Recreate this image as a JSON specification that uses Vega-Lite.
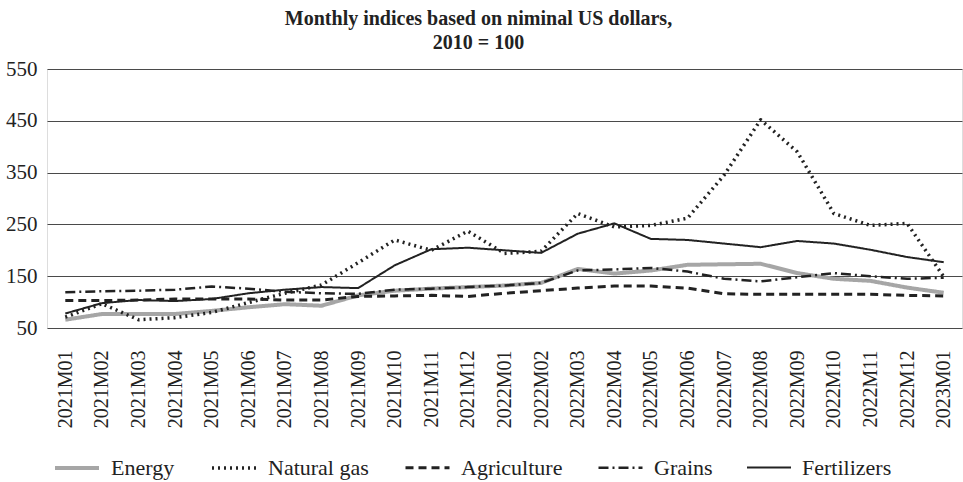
{
  "$schema": "https://vega.github.io/schema/vega-lite/v6.json",
  "autosize": {"type": "none"},
  "width": 915,
  "height": 259,
  "padding": {"left": 47, "top": 69, "right": 1, "bottom": 154},
  "background": "white",
  "title": {
    "text": ["Monthly indices based on niminal US dollars,", "2010 = 100"],
    "font": "Liberation Serif",
    "fontSize": 20,
    "fontWeight": "bold",
    "color": "#222222",
    "anchor": "middle",
    "dx": -26,
    "offset": 5,
    "lineHeight": 24
  },
  "data": {
    "values": [
      {"m": "2021M01", "Energy": 66, "Natural gas": 71, "Agriculture": 103, "Grains": 119, "Fertilizers": 78},
      {"m": "2021M02", "Energy": 77, "Natural gas": 97, "Agriculture": 103, "Grains": 121, "Fertilizers": 98},
      {"m": "2021M03", "Energy": 77, "Natural gas": 66, "Agriculture": 104, "Grains": 122, "Fertilizers": 104},
      {"m": "2021M04", "Energy": 77, "Natural gas": 70, "Agriculture": 106, "Grains": 124, "Fertilizers": 102},
      {"m": "2021M05", "Energy": 83, "Natural gas": 80, "Agriculture": 106, "Grains": 130, "Fertilizers": 106},
      {"m": "2021M06", "Energy": 90, "Natural gas": 99, "Agriculture": 106, "Grains": 126, "Fertilizers": 117},
      {"m": "2021M07", "Energy": 96, "Natural gas": 117, "Agriculture": 104, "Grains": 120, "Fertilizers": 124},
      {"m": "2021M08", "Energy": 93, "Natural gas": 133, "Agriculture": 104, "Grains": 117, "Fertilizers": 129},
      {"m": "2021M09", "Energy": 113, "Natural gas": 176, "Agriculture": 111, "Grains": 116, "Fertilizers": 127},
      {"m": "2021M10", "Energy": 122, "Natural gas": 220, "Agriculture": 112, "Grains": 124, "Fertilizers": 171},
      {"m": "2021M11", "Energy": 126, "Natural gas": 200, "Agriculture": 113, "Grains": 126, "Fertilizers": 202},
      {"m": "2021M12", "Energy": 129, "Natural gas": 237, "Agriculture": 111, "Grains": 129, "Fertilizers": 205},
      {"m": "2022M01", "Energy": 132, "Natural gas": 194, "Agriculture": 117, "Grains": 132, "Fertilizers": 200},
      {"m": "2022M02", "Energy": 137, "Natural gas": 198, "Agriculture": 122, "Grains": 137, "Fertilizers": 195},
      {"m": "2022M03", "Energy": 164, "Natural gas": 271, "Agriculture": 127, "Grains": 161, "Fertilizers": 232},
      {"m": "2022M04", "Energy": 155, "Natural gas": 245, "Agriculture": 131, "Grains": 163, "Fertilizers": 252},
      {"m": "2022M05", "Energy": 161, "Natural gas": 248, "Agriculture": 131, "Grains": 166, "Fertilizers": 222},
      {"m": "2022M06", "Energy": 172, "Natural gas": 262, "Agriculture": 127, "Grains": 159, "Fertilizers": 220},
      {"m": "2022M07", "Energy": 173, "Natural gas": 345, "Agriculture": 116, "Grains": 145, "Fertilizers": 213},
      {"m": "2022M08", "Energy": 174, "Natural gas": 452, "Agriculture": 115, "Grains": 140, "Fertilizers": 206},
      {"m": "2022M09", "Energy": 156, "Natural gas": 390, "Agriculture": 115, "Grains": 148, "Fertilizers": 218},
      {"m": "2022M10", "Energy": 145, "Natural gas": 271, "Agriculture": 115, "Grains": 156, "Fertilizers": 213},
      {"m": "2022M11", "Energy": 141, "Natural gas": 248, "Agriculture": 115, "Grains": 150, "Fertilizers": 201},
      {"m": "2022M12", "Energy": 128, "Natural gas": 252, "Agriculture": 113, "Grains": 145, "Fertilizers": 187},
      {"m": "2023M01", "Energy": 118, "Natural gas": 149, "Agriculture": 112, "Grains": 147, "Fertilizers": 177}
    ]
  },
  "transform": [
    {"fold": ["Energy", "Natural gas", "Agriculture", "Grains", "Fertilizers"], "as": ["series", "value"]}
  ],
  "mark": {"type": "line", "strokeCap": "butt", "strokeJoin": "round"},
  "encoding": {
    "x": {
      "field": "m",
      "type": "ordinal",
      "sort": null,
      "scale": {"type": "point", "padding": 0.5},
      "axis": {
        "title": null,
        "labelAngle": 270,
        "labelFont": "Liberation Serif",
        "labelFontSize": 20,
        "labelColor": "#222222",
        "labelPadding": 22,
        "ticks": false,
        "domain": false,
        "grid": false,
        "labelOverlap": false
      }
    },
    "y": {
      "field": "value",
      "type": "quantitative",
      "scale": {"domain": [50, 550], "nice": false, "zero": false},
      "axis": {
        "title": null,
        "values": [50, 150, 250, 350, 450, 550],
        "labelFont": "Liberation Serif",
        "labelFontSize": 21,
        "labelColor": "#222222",
        "labelPadding": 10,
        "ticks": false,
        "domain": false,
        "grid": true,
        "gridColor": "#4a4a4a",
        "gridWidth": 1
      }
    },
    "color": {
      "field": "series",
      "type": "nominal",
      "scale": {
        "domain": ["Energy", "Natural gas", "Agriculture", "Grains", "Fertilizers"],
        "range": ["#a6a6a6", "#222222", "#222222", "#222222", "#222222"]
      },
      "legend": {
        "title": null,
        "orient": "none",
        "legendX": 6,
        "legendY": 375,
        "direction": "horizontal",
        "symbolType": "stroke",
        "symbolSize": 1936,
        "labelFont": "Liberation Serif",
        "labelFontSize": 22,
        "labelColor": "#222222",
        "labelOffset": 10,
        "columnPadding": 30,
        "labelLimit": 300
      }
    },
    "strokeDash": {
      "field": "series",
      "type": "nominal",
      "scale": {
        "domain": ["Energy", "Natural gas", "Agriculture", "Grains", "Fertilizers"],
        "range": [[1, 0], [2, 4], [8, 5], [10, 4, 2, 4], [1, 0]]
      },
      "legend": {"title": null}
    },
    "strokeWidth": {
      "field": "series",
      "type": "nominal",
      "scale": {
        "domain": ["Energy", "Natural gas", "Agriculture", "Grains", "Fertilizers"],
        "range": [4, 2, 2, 2, 2]
      },
      "legend": {"title": null}
    }
  }
}
